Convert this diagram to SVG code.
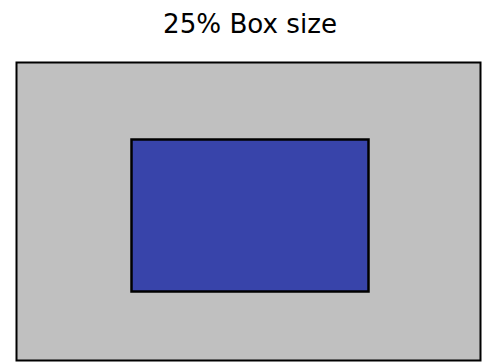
<svg xmlns="http://www.w3.org/2000/svg" width="487" height="362" viewBox="0 0 487 362">
<style>
.title{font-family:"DejaVu Sans","Liberation Sans",sans-serif;font-size:26px;fill:#000}
.outer{fill:#C0C0C0;stroke:#000;stroke-width:2}
.inner{fill:#3844AA;stroke:#000;stroke-width:2.5}
</style>
<rect width="487" height="362" fill="#fff"/>
<text class="title" x="250" y="32.5" text-anchor="middle" textLength="174" lengthAdjust="spacingAndGlyphs">25% Box size</text>
<g id="outer-box"><rect class="outer" x="16.5" y="62.5" width="464" height="298"/></g>
<g id="inner-box"><rect class="inner" x="131.5" y="139.5" width="237" height="152"/></g>
<g id="connectors"></g>
</svg>
